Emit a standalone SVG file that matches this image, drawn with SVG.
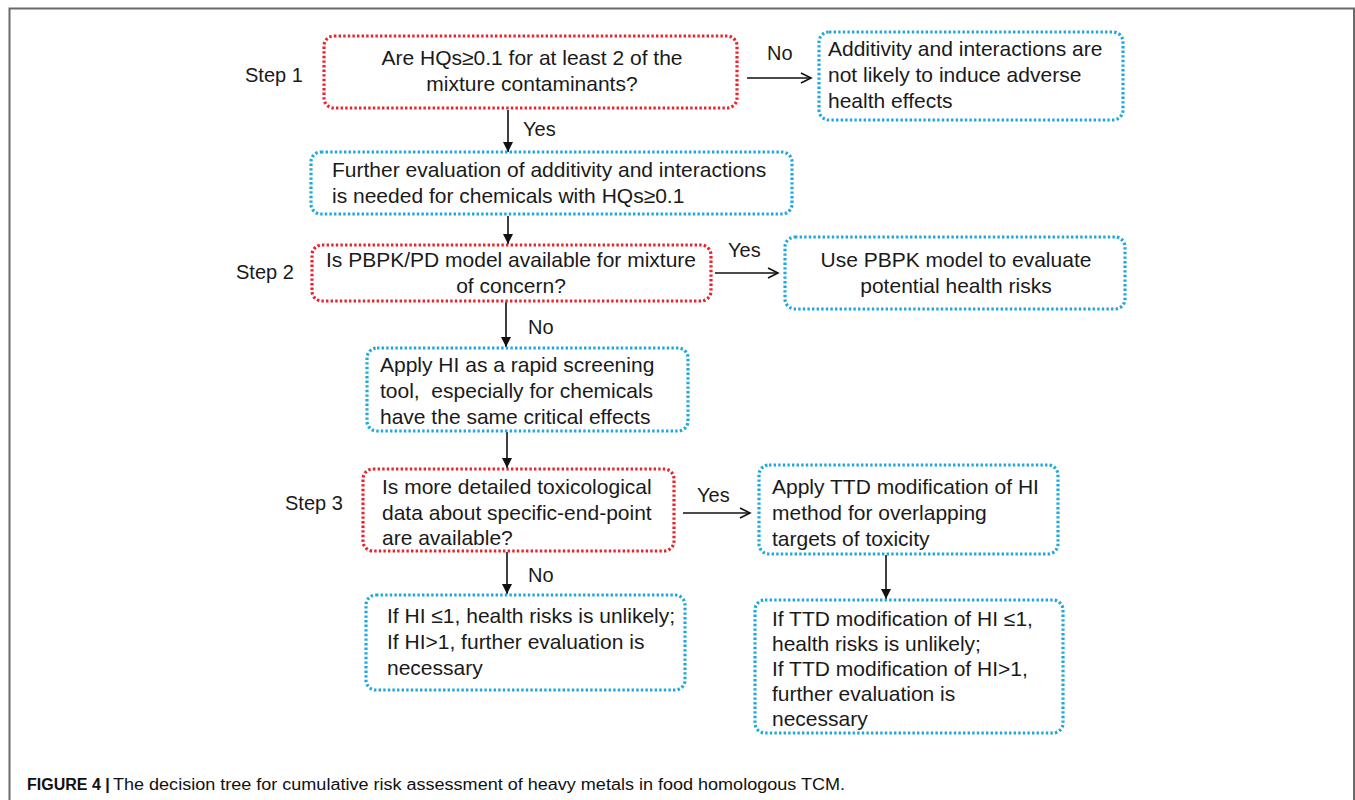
<svg xmlns="http://www.w3.org/2000/svg" width="1355" height="800" viewBox="0 0 1355 800">
<style>
.t{font-family:"Liberation Sans",Arial,sans-serif;font-size:21px;fill:#1a1a1a}
.c{text-anchor:middle}
.lbl{font-family:"Liberation Sans",Arial,sans-serif;font-size:20px;fill:#1a1a1a}
.red{fill:#fff;stroke:#e8232a;stroke-width:3.2;stroke-dasharray:2.4 2.2}
.blue{fill:#fff;stroke:#1fa8dd;stroke-width:3.2;stroke-dasharray:2.4 2.2}
.ln{stroke:#111;stroke-width:1.6;fill:none}
.cap{font-family:"Liberation Sans",Arial,sans-serif;font-size:16px;fill:#111}
</style>
<defs>
<marker id="tri" markerUnits="userSpaceOnUse" markerWidth="12" markerHeight="12" refX="10" refY="5" orient="auto">
<path d="M0,0 L10,5 L0,10 z" fill="#111"/>
</marker>
<marker id="chev" markerUnits="userSpaceOnUse" markerWidth="14" markerHeight="14" refX="11" refY="6" orient="auto">
<path d="M1,1 L11,6 L1,11" fill="none" stroke="#111" stroke-width="1.6"/>
</marker>
</defs>
<rect x="0" y="0" width="1355" height="800" fill="#fff"/>
<rect x="9.5" y="8.5" width="1344.5" height="820" fill="none" stroke="#6a6a6a" stroke-width="2"/>

<g id="steps">
<text class="lbl" x="245" y="82">Step 1</text>
<text class="lbl" x="236" y="279">Step 2</text>
<text class="lbl" x="285" y="510">Step 3</text>
</g>

<g id="connectors">
<line class="ln" x1="747" y1="78" x2="811" y2="78" marker-end="url(#chev)"/>
<text class="lbl" x="767" y="60">No</text>
<line class="ln" x1="508" y1="110" x2="508" y2="152" marker-end="url(#tri)"/>
<text class="lbl" x="523" y="136">Yes</text>
<line class="ln" x1="508" y1="216" x2="508" y2="244" marker-end="url(#tri)"/>
<line class="ln" x1="715" y1="273" x2="778" y2="273" marker-end="url(#chev)"/>
<text class="lbl" x="728" y="257">Yes</text>
<line class="ln" x1="506" y1="302" x2="506" y2="347" marker-end="url(#tri)"/>
<text class="lbl" x="528" y="334">No</text>
<line class="ln" x1="507" y1="432" x2="507" y2="468" marker-end="url(#tri)"/>
<line class="ln" x1="683" y1="513" x2="750" y2="513" marker-end="url(#chev)"/>
<text class="lbl" x="697" y="502">Yes</text>
<line class="ln" x1="507" y1="552" x2="507" y2="594" marker-end="url(#tri)"/>
<text class="lbl" x="528" y="582">No</text>
<line class="ln" x1="886" y1="555" x2="886" y2="599" marker-end="url(#tri)"/>
</g>

<g id="n1">
<rect class="red" x="324" y="36" width="413" height="72" rx="10"/>
<text class="t c" x="532" y="65">Are HQs≥0.1 for at least 2 of the</text>
<text class="t c" x="532" y="91">mixture contaminants?</text>
</g>
<g id="n2">
<rect class="blue" x="819" y="32" width="304" height="88" rx="10"/>
<text class="t" x="828" y="56">Additivity and interactions are</text>
<text class="t" x="828" y="82">not likely to induce adverse</text>
<text class="t" x="828" y="108">health effects</text>
</g>
<g id="n3">
<rect class="blue" x="311" y="152" width="481" height="62" rx="10"/>
<text class="t" x="332" y="177">Further evaluation of additivity and interactions</text>
<text class="t" x="332" y="203">is needed for chemicals with HQs≥0.1</text>
</g>
<g id="n4">
<rect class="red" x="312" y="245" width="399" height="56" rx="10"/>
<text class="t c" x="511" y="267">Is PBPK/PD model available for mixture</text>
<text class="t c" x="511" y="293">of concern?</text>
</g>
<g id="n5">
<rect class="blue" x="785" y="237" width="340" height="72" rx="10"/>
<text class="t c" x="956" y="267">Use PBPK model to evaluate</text>
<text class="t c" x="956" y="293">potential health risks</text>
</g>
<g id="n6">
<rect class="blue" x="367" y="348" width="321" height="83" rx="10"/>
<text class="t" x="380" y="372">Apply HI as a rapid screening</text>
<text class="t" x="380" y="398" xml:space="preserve">tool,  especially for chemicals</text>
<text class="t" x="380" y="424">have the same critical effects</text>
</g>
<g id="n7">
<rect class="red" x="363" y="469" width="311" height="82" rx="10"/>
<text class="t" x="382" y="494">Is more detailed toxicological</text>
<text class="t" x="382" y="520">data about specific-end-point</text>
<text class="t" x="382" y="545">are available?</text>
</g>
<g id="n8">
<rect class="blue" x="759" y="465" width="299" height="89" rx="10"/>
<text class="t" x="772" y="494">Apply TTD modification of HI</text>
<text class="t" x="772" y="520">method for overlapping</text>
<text class="t" x="772" y="546">targets of toxicity</text>
</g>
<g id="n9">
<rect class="blue" x="755" y="600" width="308" height="133" rx="10"/>
<text class="t" x="772" y="626">If TTD modification of HI ≤1,</text>
<text class="t" x="772" y="651">health risks is unlikely;</text>
<text class="t" x="772" y="676">If TTD modification of HI&gt;1,</text>
<text class="t" x="772" y="701">further evaluation is</text>
<text class="t" x="772" y="726">necessary</text>
</g>
<g id="n10">
<rect class="blue" x="366" y="595" width="319" height="95" rx="10"/>
<text class="t" x="387" y="623">If HI ≤1, health risks is unlikely;</text>
<text class="t" x="387" y="649">If HI&gt;1, further evaluation is</text>
<text class="t" x="387" y="675">necessary</text>
</g>

<g id="caption">
<text class="cap" x="27" y="790" font-weight="bold">FIGURE 4 |</text>
<text class="cap" x="113" y="790" textLength="732" lengthAdjust="spacingAndGlyphs">The decision tree for cumulative risk assessment of heavy metals in food homologous TCM.</text>
</g>
</svg>
